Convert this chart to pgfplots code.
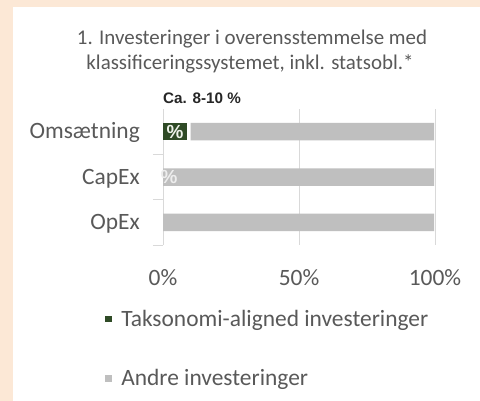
\documentclass[border=0pt]{standalone}
\usepackage{pgfplots}
\usepackage{pgfplotstable}
\pgfplotsset{compat=1.18}
\usepackage{fontspec}
\setmainfont{Carlito}
\newfontfamily\arialfont{Liberation Sans}
\definecolor{peach}{HTML}{FCE8D6}
\definecolor{txt}{HTML}{595959}
\definecolor{barg}{HTML}{BFBFBF}
\definecolor{greenb}{HTML}{2F4B26}
\definecolor{gridc}{HTML}{D9D9D9}
\definecolor{lbl}{HTML}{EEF2EA}

\pgfplotstableread{
y green lab
0 8.8 {\%}
1 0 {}
2 0 {}
}\greentab
\pgfplotstableread{
y gap
0 1.4
1 0
2 0
}\gaptab
\pgfplotstableread{
y other lab shift
0 89.5 {} 0
1 99.7 {\%} -129.5
2 99.7 {} 0
}\othertab

\begin{document}
\begin{tikzpicture}
\useasboundingbox (0,0) rectangle (480bp,401bp);
\fill[peach] (0,0) rectangle (480bp,401bp);
\fill[white] (13bp,0) rectangle (480bp,394bp);
\node[anchor=base, inner sep=0pt, text=txt, font=\fontsize{21}{25}\selectfont] at (252bp,356bp) {1. Investeringer i overensstemmelse med};
\node[anchor=base, inner sep=0pt, text=txt, font=\fontsize{21}{25}\selectfont] at (250bp,331bp) {klassificeringssystemet, inkl. statsobl.*};
\node[anchor=base west, inner sep=0pt, text=black!85, font=\arialfont\bfseries\fontsize{15.3}{18}\selectfont] at (163bp,297.5bp) {Ca. 8-10 \%};
\begin{axis}[
  at={(163bp,156bp)}, anchor=south west,
  scale only axis, width=272bp, height=136bp,
  xbar stacked, bar width=17.5bp,
  xmin=0, xmax=100, ymin=-0.5, ymax=2.5, y dir=reverse,
  xtick={0,50,100}, xticklabels={0\%,50\%,100\%},
  xmajorgrids, grid style={gridc, line width=0.9bp},
  axis line style={draw=none},
  ytick={0,1,2}, yticklabels={Omsætning,CapEx,OpEx},
  major tick length=0pt, tick pos=left,
  extra y ticks={0.5,1.5,2.5}, extra y tick labels={},
  extra y tick style={major tick length=10bp, tick align=outside, major tick style={draw=gridc, line width=0.9bp}},
  /pgf/number format/assume math mode=true,
  tick label style={text=txt, font=\fontsize{23.5}{28}\selectfont},
  xticklabel style={anchor=base, yshift=-40bp},
  yticklabel style={inner sep=0pt, anchor=base east, xshift=-23bp, yshift=-7bp},
  legend style={at={(-0.213,-0.463)}, anchor=north west, draw=none, fill=none, inner sep=0pt,
    font=\fontsize{23.5}{28}\selectfont, text=txt, row sep=37.5bp},
  legend cell align=left,
]
\addlegendimage{legend image code/.code={\fill[greenb, draw=none] (0bp,-3.25bp) rectangle (6.5bp,3.25bp); \path[draw=none, fill=none] (0bp,0bp) -- (14bp,0bp);}}
\addlegendentry{Taksonomi-aligned investeringer}
\addlegendimage{legend image code/.code={\fill[barg, draw=none] (0bp,-3.25bp) rectangle (6.5bp,3.25bp); \path[draw=none, fill=none] (0bp,0bp) -- (14bp,0bp);}}
\addlegendentry{Andre investeringer}
\addplot[fill=greenb, draw=none, forget plot,
  point meta=explicit symbolic,
  nodes near coords,
  every node near coord/.style={font=\arialfont\bfseries\fontsize{19}{19}\selectfont, text=lbl, anchor=center, inner sep=0pt}]
  table[x=green, y=y, meta=lab] {\greentab};
\addplot[draw=none, fill=none, forget plot] table[x=gap, y=y] {\gaptab};
\addplot[fill=barg, draw=none, forget plot,
  point meta=explicit symbolic,
  nodes near coords,
  visualization depends on={\thisrow{shift} \as \myshift},
  every node near coord/.style={font=\arialfont\bfseries\fontsize{19}{19}\selectfont, text=white!93!black, anchor=center, inner sep=0pt, xshift=\myshift bp}]
  table[x=other, y=y, meta=lab] {\othertab};
\end{axis}
\end{tikzpicture}
\end{document}
